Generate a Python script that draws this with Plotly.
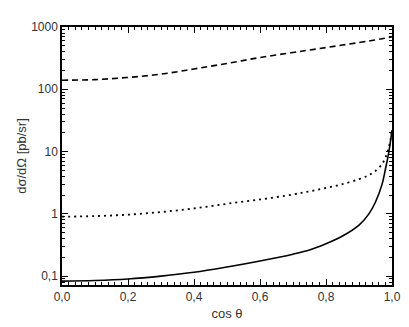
import numpy as np
import plotly.graph_objects as go

# cos(theta) grid and curves
cos_t = [0.0, 0.1, 0.2, 0.3, 0.4, 0.5, 0.6, 0.7, 0.75, 0.8, 0.85, 0.9,
         0.93, 0.95, 0.97, 0.98, 0.99, 1.0]

dashed = [140, 143, 155, 175, 212, 260, 324, 390, 427, 468, 513, 562,
          596, 620, 648, 664, 680, 700]
dotted = [0.90, 0.92, 0.97, 1.07, 1.22, 1.45, 1.70, 2.05, 2.3, 2.6, 3.0, 3.6,
          4.2, 4.9, 6.3, 8.0, 11.5, 21]
solid = [0.083, 0.085, 0.090, 0.100, 0.115, 0.140, 0.175, 0.225, 0.262, 0.33,
         0.44, 0.66, 1.0, 1.55, 3.0, 5.2, 9.5, 22]

fig = go.Figure()
fig.add_trace(go.Scatter(x=cos_t, y=dashed, mode="lines", line_shape="spline",
                         line=dict(color="black", width=1.6, dash="6px,4px")))
fig.add_trace(go.Scatter(x=cos_t, y=dotted, mode="lines", line_shape="spline",
                         line=dict(color="black", width=1.8, dash="2px,4px")))
fig.add_trace(go.Scatter(x=cos_t, y=solid, mode="lines", line_shape="spline",
                         line=dict(color="black", width=1.6)))

fam = "Liberation Sans, Arial, sans-serif"
axis_font = dict(family=fam, size=12, color="#333333")
title_font = dict(family=fam, size=13, color="#333333")

# decimal comma via layout.separators
fig.update_xaxes(
    range=[0, 1], tick0=0, dtick=0.2, tickformat=".1f",
    ticks="inside", ticklen=6, tickwidth=1.2, tickcolor="black",
    minor=dict(ticks="inside", ticklen=3, tickwidth=1, dtick=0.02, tickcolor="black"),
    showline=True, linecolor="black", linewidth=1.5, mirror="ticks",
    showgrid=False, zeroline=False, tickfont=axis_font,
    title=dict(text="cos θ", font=title_font, standoff=6),
)
fig.update_yaxes(
    type="log", range=[np.log10(0.072), 3], dtick=1,
    ticks="inside", ticklen=6, tickwidth=1.2, tickcolor="black",
    minor=dict(ticks="inside", ticklen=3, tickwidth=1, dtick="D1", tickcolor="black", showgrid=False),
    showline=True, linecolor="black", linewidth=1.5, mirror="ticks",
    showgrid=False, zeroline=False, tickfont=axis_font,
    title=dict(text="dσ/dΩ [pb/sr]", font=title_font, standoff=2),
)

fig.update_layout(
    width=409, height=327,
    margin=dict(l=45, r=25, t=16, b=50),
    plot_bgcolor="white", paper_bgcolor="white",
    separators=", ",
    showlegend=False,
)

fig.write_html("out.html")
